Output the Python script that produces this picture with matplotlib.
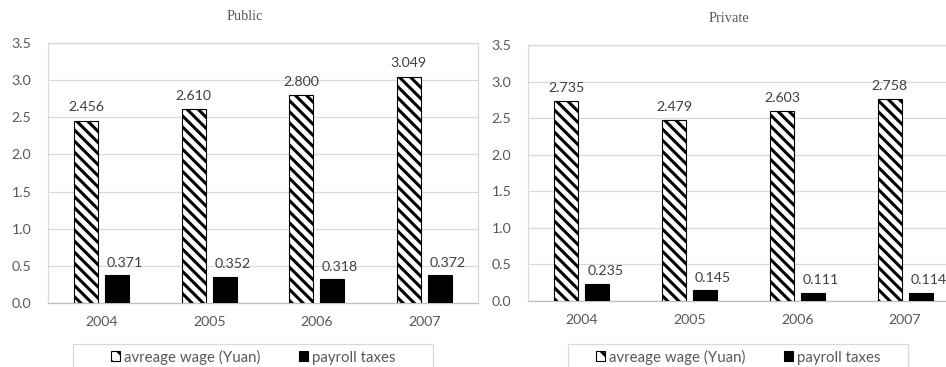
import matplotlib
matplotlib.use("Agg")
import matplotlib.pyplot as plt
from matplotlib.patches import Rectangle, Patch

years = ["2004", "2005", "2006", "2007"]
public_wage = [2.456, 2.610, 2.800, 3.049]
public_tax = [0.371, 0.352, 0.318, 0.372]
private_wage = [2.735, 2.479, 2.603, 2.758]
private_tax = [0.235, 0.145, 0.111, 0.114]
series_names = ["avreage wage (Yuan)", "payroll taxes"]
yticks = [0.0, 0.5, 1.0, 1.5, 2.0, 2.5, 3.0, 3.5]

plt.rcParams["font.family"] = ["Lato", "DejaVu Sans"]
plt.rcParams["hatch.linewidth"] = 2.2

W, H = 946, 367
fig = plt.figure(figsize=(W / 100, H / 100), dpi=100)

TICK_C = "#595959"
LABEL_C = "#404040"
GRID_C = "#d9d9d9"
HATCH = "\\\\\\"

bar_w = 0.223
off = 0.143
FS = 10.2


def panel(rect, title, title_xy, wage, tax, legend_box):
    ax = fig.add_axes(rect)
    xs = list(range(len(years)))
    xw = [x - off for x in xs]
    xt = [x + off for x in xs]
    ax.bar(xw, wage, width=bar_w, color="white", edgecolor="black",
           hatch=HATCH, linewidth=0.8, zorder=3)
    ax.bar(xt, tax, width=bar_w, color="black", edgecolor="black",
           linewidth=0.8, zorder=3)
    for x, v in zip(xw, wage):
        ax.annotate(f"{v:.3f}", (x, v), xytext=(0, 9.4), textcoords="offset points",
                    ha="center", va="center", fontsize=FS, color=LABEL_C)
    for x, v in zip(xt, tax):
        ax.annotate(f"{v:.3f}", (x, v), xytext=(5.8, 9.0), textcoords="offset points",
                    ha="center", va="center", fontsize=FS, color=LABEL_C)
    ax.set_xlim(-0.5, 3.5)
    ax.set_ylim(0, 3.5)
    ax.set_yticks(yticks)
    ax.set_yticklabels([f"{t:.1f}" for t in yticks])
    ax.set_xticks(xs)
    ax.set_xticklabels(years)
    ax.tick_params(axis="both", length=0, labelsize=FS, colors=TICK_C)
    ax.tick_params(axis="y", pad=12)
    ax.tick_params(axis="x", pad=9)
    ax.grid(axis="y", color=GRID_C, linewidth=0.9, zorder=0)
    ax.set_axisbelow(True)
    for s in ax.spines.values():
        s.set_color(GRID_C)
        s.set_linewidth(0.9)
    ax.spines["bottom"].set_color("#bfbfbf")
    fig.text(title_xy[0] / W, 1 - title_xy[1] / H, title, ha="center", va="center",
             fontsize=10.4, color=TICK_C, family="Liberation Serif")

    lx0, lx1, ly = legend_box
    fig.patches.append(Rectangle((lx0 / W, -0.05), (lx1 - lx0) / W, (H - ly) / H + 0.05,
                                 transform=fig.transFigure, fill=False,
                                 edgecolor=GRID_C, linewidth=0.9))
    handles = [Patch(facecolor="white", edgecolor="black", hatch="\\\\", linewidth=0.8),
               Patch(facecolor="black", edgecolor="black", linewidth=0.8)]
    fig.legend(handles, series_names, loc="center",
               bbox_to_anchor=((lx0 + lx1) / 2 / W, 1 - 357 / H),
               ncol=2, frameon=False, fontsize=10.8, labelcolor=TICK_C,
               handlelength=0.6, handleheight=0.6, handletextpad=0.25,
               columnspacing=2.6, borderpad=0.0)
    return ax


panel([48 / W, 1 - 303 / H, 430 / W, 260 / H], "Public", (245, 17),
      public_wage, public_tax, (73, 433, 344))
panel([528 / W, 1 - 301 / H, 431 / W, 256 / H], "Private", (729, 19),
      private_wage, private_tax, (568, 908, 344))

fig.savefig("out.png", dpi=100)
